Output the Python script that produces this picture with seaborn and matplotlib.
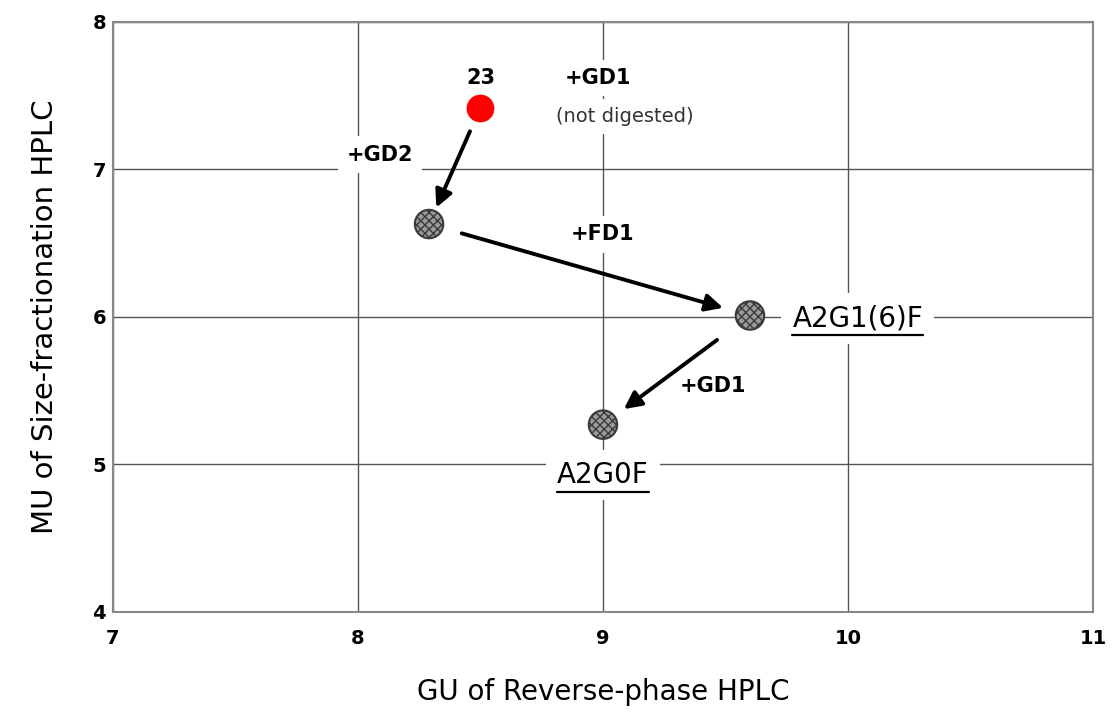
import matplotlib
matplotlib.use('Agg')
import matplotlib.pyplot as plt
import seaborn as sns
import pandas as pd

sns.set_style('white')
plt.rcParams['font.family'] = ['DejaVu Sans']

# glycan positions (GU of reverse-phase, MU of size-fractionation)
names = ['23', 'A2G1(6)F_pre', 'A2G1(6)F', 'A2G0F']
gu = [8.50, 8.29, 9.60, 9.00]
mu = [7.42, 6.63, 6.01, 5.27]
kind = ['peak', 'product', 'product', 'product']

# digestion steps: (from index, to index, shrink start px, shrink end px)
steps_from = [0, 1, 2]
steps_to = [1, 2, 3]
shrink_start = [26, 34, 41]
shrink_end = [18, 28, 26]

# text labels
lab_text = ['23', '+GD1', '(not digested)', '+GD2', '+FD1', '+GD1']
lab_x = [8.50, 8.98, 9.09, 8.09, 9.00, 9.45]
lab_y = [7.62, 7.62, 7.36, 7.10, 6.56, 5.53]
lab_bold = [True, True, False, True, True, True]
lab_size = [15, 15, 14, 15, 15, 15]

# underlined structure names
struct_text = ['A2G1(6)F', 'A2G0F']
struct_x = [10.04, 9.00]
struct_y = [5.99, 4.93]

xticks = [7, 8, 9, 10, 11]
yticks = [4, 5, 6, 7, 8]

df = pd.DataFrame({'gu': gu, 'mu': mu, 'kind': kind})

fig = plt.figure(figsize=(11.12, 7.13), dpi=100)
ax = fig.add_axes([0.1016, 0.1417, 0.8813, 0.8275])

plt.rcParams['hatch.color'] = '#5a5a5a'
sns.scatterplot(data=df[df['kind'] == 'product'], x='gu', y='mu', ax=ax,
                s=420, color='#9a9a9a', edgecolor='#3a3a3a', linewidth=1.5,
                zorder=5, legend=False)
ax.collections[-1].set_hatch('xxxx')
sns.scatterplot(data=df[df['kind'] == 'peak'], x='gu', y='mu', ax=ax,
                s=380, color='#ff0000', edgecolor='#ff0000', linewidth=0.5,
                zorder=5, legend=False)

# arrows between digestion products
px2pt = 0.72
for a, b, sa, sb in zip(steps_from, steps_to, shrink_start, shrink_end):
    ax.annotate('', xy=(gu[b], mu[b]), xytext=(gu[a], mu[a]),
                arrowprops=dict(arrowstyle='-|>', color='black', lw=2.8,
                                mutation_scale=26, shrinkA=sa * px2pt,
                                shrinkB=sb * px2pt),
                zorder=6)

box = dict(facecolor='white', edgecolor='none', pad=6)
for t, x, y, b, s in zip(lab_text, lab_x, lab_y, lab_bold, lab_size):
    ax.text(x, y, t, ha='center', va='center', fontsize=s,
            fontweight='bold' if b else 'normal',
            color='black' if b else '#333333', bbox=box, zorder=4)

struct_objs = []
for t, x, y in zip(struct_text, struct_x, struct_y):
    struct_objs.append(ax.text(x, y, t, ha='center', va='center', fontsize=20,
                               color='black',
                               bbox=dict(facecolor='white', edgecolor='none', pad=8),
                               zorder=4))

ax.set_xlim(7, 11)
ax.set_ylim(4, 8)
ax.set_xticks(xticks)
ax.set_yticks(yticks)
ax.set_xticklabels([str(v) for v in xticks], fontsize=14, fontweight='bold')
ax.set_yticklabels([str(v) for v in yticks], fontsize=14, fontweight='bold')
ax.tick_params(length=0, labelcolor='black')
ax.tick_params(axis='x', pad=12)
ax.tick_params(axis='y', pad=5)
ax.grid(True, color='#555555', linewidth=1.0)
ax.set_axisbelow(True)
for sp in ax.spines.values():
    sp.set_color('#888888')
    sp.set_linewidth(1.5)

ax.set_xlabel('GU of Reverse-phase HPLC', fontsize=20, labelpad=22, color='black')
ax.set_ylabel('MU of Size-fractionation HPLC', fontsize=21, labelpad=24, color='black')

# underline structure names using their rendered extents
fig.canvas.draw()
inv = ax.transAxes.inverted()
for t in struct_objs:
    bb = t.get_window_extent()
    (x0, y0), (x1, _) = inv.transform([(bb.x0, bb.y0 - 3), (bb.x1, bb.y0 - 3)])
    ax.plot([x0, x1], [y0, y0], transform=ax.transAxes, color='black',
            lw=1.6, zorder=7, clip_on=False)

fig.savefig('out.png', dpi=100)
